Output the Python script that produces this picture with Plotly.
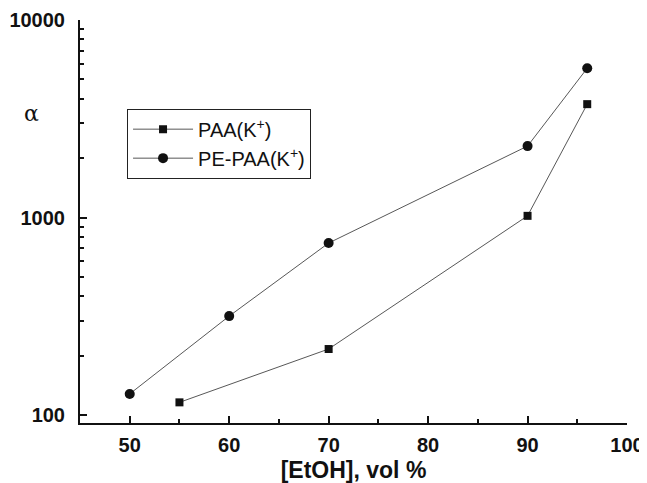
import plotly.graph_objects as go

etoh_paa = [55, 70, 90, 96]
alpha_paa = [116, 216, 1020, 3750]
etoh_pe = [50, 60, 70, 90, 96]
alpha_pe = [128, 317, 743, 2300, 5700]

x_ticks = [50, 60, 70, 80, 90, 100]
x_labels = ["50", "60", "70", "80", "90", "100"]
x_minor = [45, 55, 65, 75, 85, 95]
y_ticks = [100, 1000, 10000]
y_labels = ["100", "1000", "10000"]
y_minor = [m * d for d in (100, 1000) for m in range(2, 10)]

FONT = "Liberation Sans, Arial, sans-serif"

fig = go.Figure()
fig.add_trace(go.Scatter(
    x=etoh_paa, y=alpha_paa, mode="lines+markers", name="PAA(K<sup>+</sup>)",
    line=dict(color="#444444", width=0.9),
    marker=dict(symbol="square", size=8, color="#111111")))
fig.add_trace(go.Scatter(
    x=etoh_pe, y=alpha_pe, mode="lines+markers", name="PE-PAA(K<sup>+</sup>)",
    line=dict(color="#444444", width=0.9),
    marker=dict(symbol="circle", size=10, color="#111111")))

fig.update_layout(
    width=639, height=475,
    margin=dict(l=72, r=20, t=12, b=60),
    paper_bgcolor="white", plot_bgcolor="white",
    font=dict(family=FONT, color="#111111"),
    showlegend=True,
    legend=dict(x=0.086, y=0.78, xanchor="left", yanchor="top",
                bordercolor="#222222", borderwidth=1, bgcolor="white",
                font=dict(size=20), tracegroupgap=0, itemwidth=60),
    xaxis=dict(
        range=[45, 100], showline=True, linecolor="#111111", linewidth=2,
        mirror=False, showgrid=False, zeroline=False, automargin=False,
        tickmode="array", tickvals=x_ticks,
        ticktext=["<b>%s</b>" % t for t in x_labels],
        ticks="inside", ticklen=7, tickwidth=2, tickcolor="#111111",
        ticklabeloverflow="allow", ticklabelstandoff=3,
        tickfont=dict(size=20, family=FONT),
        minor=dict(tickmode="array", tickvals=x_minor, ticks="inside", ticklen=4,
                   tickwidth=1.5, tickcolor="#111111"),
        title=dict(text="<b>[EtOH], vol %</b>", font=dict(size=23), standoff=9),
    ),
    yaxis=dict(
        type="log", range=[1.96, 4.0], showline=True, linecolor="#111111",
        linewidth=2, showgrid=False, zeroline=False, automargin=False,
        tickmode="array", tickvals=y_ticks,
        ticktext=["<b>%s</b>" % t for t in y_labels],
        ticks="inside", ticklen=7, tickwidth=2, tickcolor="#111111",
        ticklabeloverflow="allow", ticklabelstandoff=9,
        tickfont=dict(size=20, family=FONT),
        minor=dict(tickmode="array", tickvals=y_minor, ticks="inside", ticklen=4,
                   tickwidth=1.5, tickcolor="#111111"),
    ),
    annotations=[dict(text="α", xref="paper", yref="paper", x=-0.088, y=0.769,
                      xanchor="center", yanchor="middle",
                      showarrow=False, font=dict(size=22,
                      family="DejaVu Serif, Liberation Serif, serif"))],
)

fig.write_html("out.html")
